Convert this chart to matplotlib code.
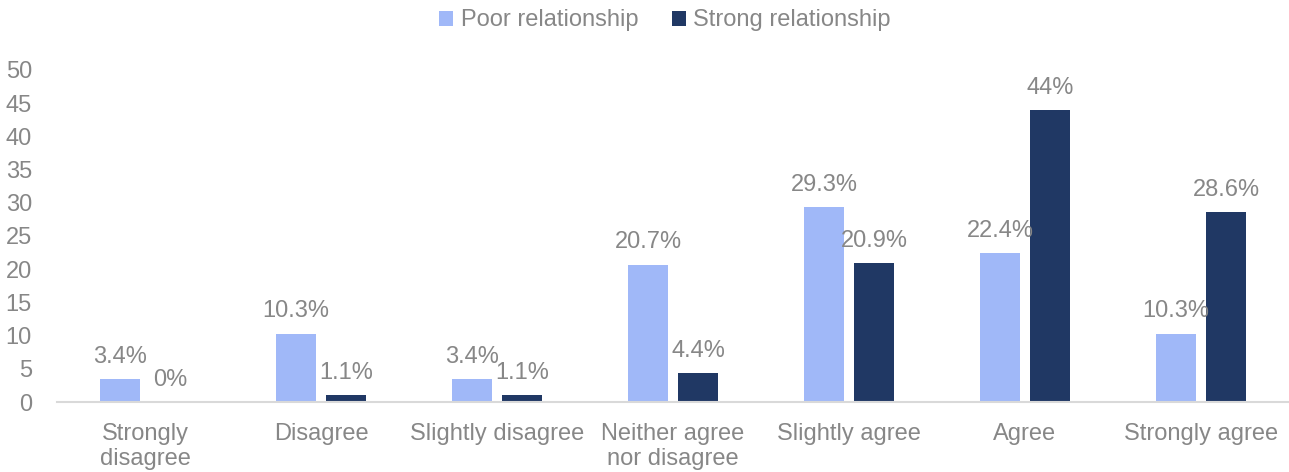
import matplotlib
matplotlib.use("Agg")
import matplotlib.pyplot as plt
import numpy as np

categories = ["Strongly\ndisagree", "Disagree", "Slightly disagree",
              "Neither agree\nnor disagree", "Slightly agree", "Agree",
              "Strongly agree"]
poor = [3.4, 10.3, 3.4, 20.7, 29.3, 22.4, 10.3]
strong = [0, 1.1, 1.1, 4.4, 20.9, 44, 28.6]
poor_labels = ["3.4%", "10.3%", "3.4%", "20.7%", "29.3%", "22.4%", "10.3%"]
strong_labels = ["0%", "1.1%", "1.1%", "4.4%", "20.9%", "44%", "28.6%"]
yticks = [0, 5, 10, 15, 20, 25, 30, 35, 40, 45, 50]

plt.rcParams["font.family"] = ["Liberation Sans", "DejaVu Sans"]
TEXT = "#878787"
LIGHT = "#A0B8F8"
DARK = "#203864"
FS = 17

fig = plt.figure(figsize=(12.89, 4.72), dpi=100)
ax = fig.add_axes([0.0442, 0.1483, 0.9558, 0.7034])

x = np.arange(len(categories))
w = 0.222
off = 0.142
b1 = ax.bar(x - off, poor, w, color=LIGHT, label="Poor relationship", zorder=2)
b2 = ax.bar(x + off, strong, w, color=DARK, label="Strong relationship", zorder=2)

for rects, labels in ((b1, poor_labels), (b2, strong_labels)):
    for r, lab in zip(rects, labels):
        ax.annotate(lab, (r.get_x() + r.get_width() / 2, r.get_height()),
                    xytext=(0, 8), textcoords="offset points",
                    ha="center", va="bottom", fontsize=FS, color=TEXT)

ax.set_xlim(-0.5, len(categories) - 0.5)
ax.set_ylim(0, 50)
ax.set_yticks(yticks)
ax.set_xticks(x)
ax.set_xticklabels(categories, fontsize=FS, color=TEXT, linespacing=1.2)
ax.tick_params(axis="y", length=0, labelsize=FS, labelcolor=TEXT, pad=18)
ax.tick_params(axis="x", length=0, pad=15)
for s in ("top", "right", "left"):
    ax.spines[s].set_visible(False)
ax.spines["bottom"].set_color("#d9d9d9")
ax.spines["bottom"].set_linewidth(1.5)

fig.legend(loc="upper center", bbox_to_anchor=(0.516, 1.025), ncol=2, frameon=False,
           fontsize=FS, labelcolor=TEXT, handlelength=0.6, handleheight=0.6,
           handletextpad=0.3, columnspacing=1.45)

fig.savefig("out.png", dpi=100)
